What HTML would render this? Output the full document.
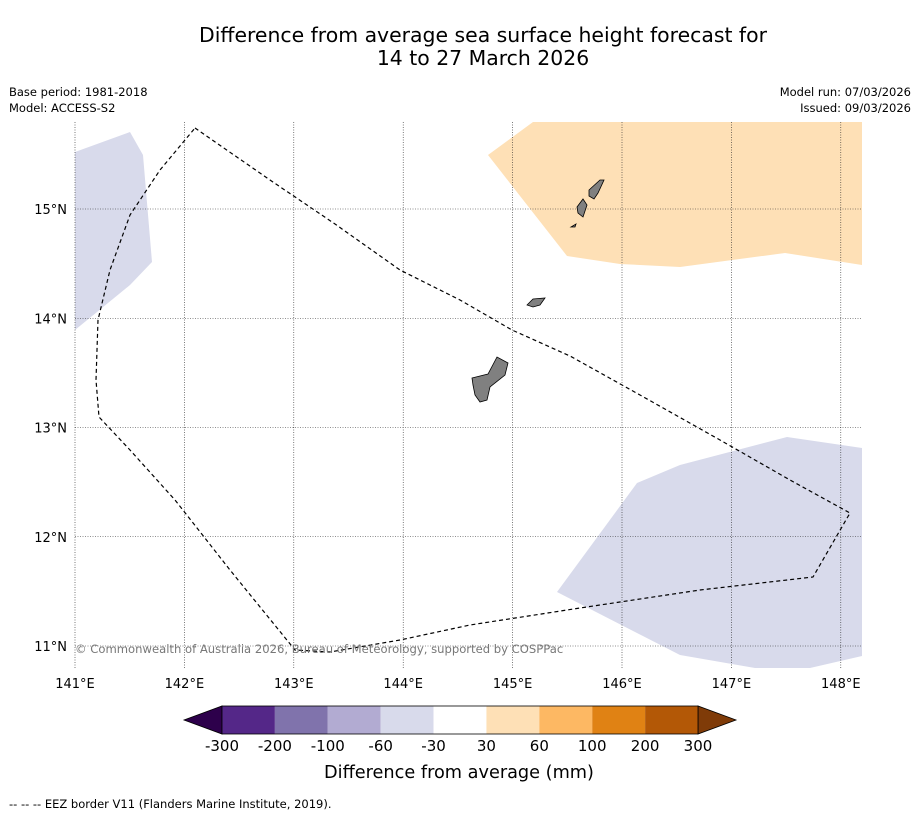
<!DOCTYPE html>
<html><head><meta charset="utf-8"><style>
body{margin:0;background:#fff;font-family:"DejaVu Sans",sans-serif;}
svg text{font-family:"DejaVu Sans",sans-serif;}
</style></head><body>
<svg id="c" width="919" height="816" xmlns="http://www.w3.org/2000/svg">
<text x="483" y="42" font-size="20.4" text-anchor="middle">Difference from average sea surface height forecast for</text>
<text x="483" y="65" font-size="20.4" text-anchor="middle">14 to 27 March 2026</text>
<text x="9" y="96" font-size="11.5">Base period: 1981-2018</text>
<text x="9" y="112" font-size="11.5">Model: ACCESS-S2</text>
<text x="911" y="96" font-size="11.5" text-anchor="end">Model run: 07/03/2026</text>
<text x="911" y="112" font-size="11.5" text-anchor="end">Issued: 09/03/2026</text>
<g id="map"></g>
<g id="cb"></g>
<text x="459" y="778" font-size="17.7" text-anchor="middle">Difference from average (mm)</text>
<text x="9" y="808" font-size="11.5">--  --  -- EEZ border V11 (Flanders Marine Institute, 2019).</text>
</svg>
<script>
const lonTicks=[141,142,143,144,145,146,147,148];
const latTicks=[11,12,13,14,15];
const cbLabels=["-300","-200","-100","-60","-30","30","60","100","200","300"];
const cbColors=["#542788","#8073ac","#b2abd2","#d8daeb","#ffffff","#fee0b6","#fdb863","#e08214","#b35806"];
const cbExt=["#2d004b","#7f3b08"];
const purpleWest=[[75,152],[130,132],[143,155],[152,262],[130,285],[75,330]];
const orangeNE=[[488,155],[533,122],[862,122],[862,265],[785,253],[680,267],[620,264],[567,256]];
const purpleSE=[[557,592],[637,483],[680,465],[787,437],[862,448],[862,656],[810,668],[755,668],[680,655]];
const eez=[[195,128],[270,180],[335,224],[400,270],[460,300],[512,330],[570,356],[640,395],[720,440],[790,480],[850,513],[813,577],[700,590],[580,608],[470,625],[400,640],[330,652],[295,650],[230,570],[175,500],[130,450],[99,417],[96,380],[98,320],[110,270],[130,215],[160,170],[195,128]];
const islands=[
[[472,378],[488,374],[497,357],[508,363],[505,375],[490,387],[487,400],[480,402],[475,395],[473,385]],
[[527,305],[533,299],[545,298],[540,305],[533,307]],
[[577,207],[583,199],[587,205],[583,217],[578,213]],
[[589,190],[600,180],[604,180],[598,193],[594,199],[589,196]],
[[571,227],[576,224],[575,227]]];
const X0=75,XS=109.4,Y0=209,YS=109.25;
const px2ll=p=>[141+(p[0]-X0)/XS,15-(p[1]-Y0)/YS];
const xs=lon=>X0+(lon-141)*XS, ys=lat=>Y0+(15-lat)*YS;
const NS="http://www.w3.org/2000/svg";
const map=document.getElementById('map');
function mk(t,a,parent){const e=document.createElementNS(NS,t);for(const k in a)e.setAttribute(k,a[k]);parent.appendChild(e);return e;}
function pts(arr){return arr.map(px2ll).map(q=>xs(q[0]).toFixed(1)+","+ys(q[1]).toFixed(1)).join(" ");}
let e;
e=mk('polygon',{points:pts(purpleWest),fill:'#d8daeb'},map);


e=mk('polygon',{points:pts(orangeNE),fill:'#fee0b6'},map);


e=mk('polygon',{points:pts(purpleSE),fill:'#d8daeb'},map);


lonTicks.forEach(l=>{
 e=mk('line',{x1:xs(l),x2:xs(l),y1:122,y2:668,stroke:'#222','stroke-width':0.6,'stroke-dasharray':'1,1.5'},map);
 
 
 e=mk('text',{x:xs(l),y:688,'font-size':13,'text-anchor':'middle'},map);e.textContent=l+"°E";
 
 
});
latTicks.forEach(l=>{
 e=mk('line',{x1:75,x2:862,y1:ys(l),y2:ys(l),stroke:'#222','stroke-width':0.6,'stroke-dasharray':'1,1.5'},map);
 
 
 e=mk('text',{x:67,y:ys(l)+5,'font-size':13,'text-anchor':'end'},map);e.textContent=l+"°N";
 
 
});
islands.forEach(isl=>{
 e=mk('polygon',{points:pts(isl),fill:'#808080',stroke:'#000','stroke-width':0.8},map);
 
 
});
e=mk('polyline',{points:pts(eez),fill:'none',stroke:'#000','stroke-width':1.2,'stroke-dasharray':'4,3'},map);


e=mk('text',{x:75,y:653,'font-size':11.6,fill:'#777'},map);e.textContent="© Commonwealth of Australia 2026, Bureau of Meteorology, supported by COSPPac";


const cb=document.getElementById('cb');
const cbL=222,cbR=698,cbT=706,cbB=734,sw=(cbR-cbL)/cbColors.length;
e=mk('polygon',{points:`${cbL},${cbT} ${cbL},${cbB} 184,${(cbT+cbB)/2}`,fill:cbExt[0],stroke:'#000','stroke-width':0.8},cb);


e=mk('polygon',{points:`${cbR},${cbT} ${cbR},${cbB} 736,${(cbT+cbB)/2}`,fill:cbExt[1],stroke:'#000','stroke-width':0.8},cb);


cbColors.forEach((c,i)=>{
 e=mk('rect',{x:cbL+i*sw,y:cbT,width:sw,height:cbB-cbT,fill:c},cb);
 
 
});
mk('rect',{x:cbL,y:cbT,width:cbR-cbL,height:cbB-cbT,fill:'none',stroke:'#000','stroke-width':0.8},cb);
cbLabels.forEach((t,i)=>{
 e=mk('text',{x:cbL+i*sw,y:751,'font-size':15,'text-anchor':'middle'},cb);e.textContent=t;
 
 
});
</script>
</body></html>
